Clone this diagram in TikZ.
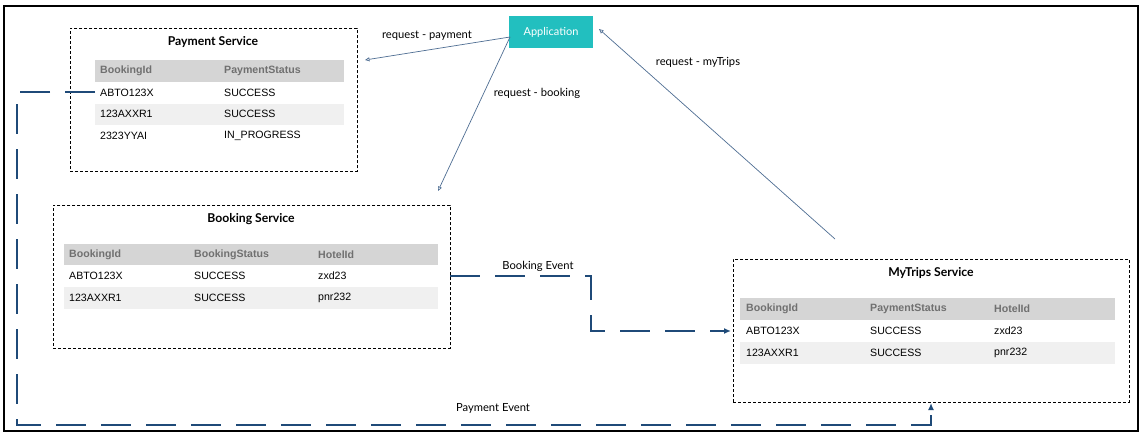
\documentclass[tikz,border=0pt]{standalone}
\usepackage{fontspec}
\setmainfont{Liberation Sans}
\newfontfamily\labfont{Lato}
\usetikzlibrary{arrows.meta}
\definecolor{navy}{HTML}{1F4A78}
\definecolor{reqblue}{HTML}{4F6E93}
\definecolor{appteal}{HTML}{22BFBF}
\definecolor{hdrgray}{HTML}{D5D5D5}
\definecolor{rowgray}{HTML}{F0F0F0}
\definecolor{hdrtext}{HTML}{707070}
\begin{document}
\begin{tikzpicture}[x=1pt,y=-1pt,
  svcbox/.style={draw, dash pattern=on 3pt off 2pt, line width=0.7pt, inner sep=0pt, anchor=north west},
  title/.style={font=\labfont\bfseries\fontsize{12.2}{14}\selectfont, inner sep=0pt},
  hdr/.style={anchor=west, inner sep=0pt, text=hdrtext, font=\bfseries\fontsize{10.6}{12}\selectfont},
  cell/.style={anchor=west, inner sep=0pt, font=\fontsize{10.6}{12}\selectfont},
  lbl/.style={inner sep=0pt, font=\labfont\fontsize{11.2}{13}\selectfont},
  req/.style={draw=reqblue, line width=0.7pt, -{Triangle[open,length=4.5pt,width=4pt]}},
  evt/.style={draw=navy, line width=1.6pt, dash pattern=on 30pt off 15pt, -{Latex[length=7pt,width=6pt]}}
]
\useasboundingbox (0,0) rectangle (1141,434);
\fill[white] (0,0) rectangle (1141,434);
\draw[line width=2.5pt] (4,6) rectangle (1138,431);

% Application
\node[fill=appteal, text=white, minimum width=84pt, minimum height=32pt, inner sep=0pt,
  font=\labfont\fontsize{11}{13}\selectfont] (app) at (551,32) {Application};

% Payment Service
\node[svcbox, minimum width=287pt, minimum height=143pt] (pay) at (70,28) {};
\node[title] (payt) at (213,42) {Payment Service};
\fill[hdrgray] (95,60) rectangle (344,82);
\fill[rowgray] (95,104) rectangle (344,125);
\node[hdr] (ph1) at (100,71) {BookingId};
\node[hdr] (ph2) at (224,71) {PaymentStatus};
\node[cell] (p11) at (100,93) {ABTO123X};
\node[cell] (p12) at (224,93) {SUCCESS};
\node[cell] (p21) at (100,114) {123AXXR1};
\node[cell] (p22) at (224,114) {SUCCESS};
\node[cell] (p31) at (100,136) {2323YYAI};
\node[cell] (p32) at (224,136) {IN\_PROGRESS};

% Booking Service
\node[svcbox, minimum width=397pt, minimum height=143pt] (book) at (53,205) {};
\node[title] (bookt) at (251,219) {Booking Service};
\fill[hdrgray] (64,244) rectangle (438,265);
\fill[rowgray] (64,287) rectangle (438,309);
\node[hdr] (bh1) at (69,255) {BookingId};
\node[hdr] (bh2) at (194,255) {BookingStatus};
\node[hdr] (bh3) at (318,255) {HotelId};
\node[cell] (b11) at (69,276) {ABTO123X};
\node[cell] (b12) at (194,276) {SUCCESS};
\node[cell] (b13) at (318,276) {zxd23};
\node[cell] (b21) at (69,298) {123AXXR1};
\node[cell] (b22) at (194,298) {SUCCESS};
\node[cell] (b23) at (318,298) {pnr232};

% MyTrips Service
\node[svcbox, minimum width=396pt, minimum height=143pt] (trips) at (733,259) {};
\node[title] (tripst) at (931,273) {MyTrips Service};
\fill[hdrgray] (740,298) rectangle (1115,320);
\fill[rowgray] (740,342) rectangle (1115,364);
\node[hdr] (th1) at (746,309) {BookingId};
\node[hdr] (th2) at (870,309) {PaymentStatus};
\node[hdr] (th3) at (994,309) {HotelId};
\node[cell] (t11) at (746,331) {ABTO123X};
\node[cell] (t12) at (870,331) {SUCCESS};
\node[cell] (t13) at (994,331) {zxd23};
\node[cell] (t21) at (746,353) {123AXXR1};
\node[cell] (t22) at (870,353) {SUCCESS};
\node[cell] (t23) at (994,353) {pnr232};

% request arrows
\coordinate (appl) at (510,37);
\coordinate (payin) at (365,60);
\coordinate (bookin) at (438,191);
\coordinate (tripsout) at (835,239);
\coordinate (appin) at (599,29);
\draw[req] (appl) -- (payin);
\draw[req] (appl) -- (bookin);
\draw[req] (tripsout) -- (appin);
\node[lbl] (lpay) at (427,36) {request - payment};
\node[lbl] (lbook) at (537,93) {request - booking};
\node[lbl] (ltrips) at (698,62) {request - myTrips};

% events
\coordinate (payout) at (95,92);
\coordinate (bookout) at (450,276);
\coordinate (tripsin) at (731,331);
\coordinate (tripsbot) at (931,403);
\draw[evt] (bookout) -- (591,276) -- (591,331) -- (tripsin);
\draw[evt] (payout) -- (17,92) -- (17,425) -- (931,425) -- (tripsbot);
\node[lbl] (lbe) at (538,266) {Booking Event};
\node[lbl] (lpe) at (493,408) {Payment Event};
\end{tikzpicture}
\end{document}
